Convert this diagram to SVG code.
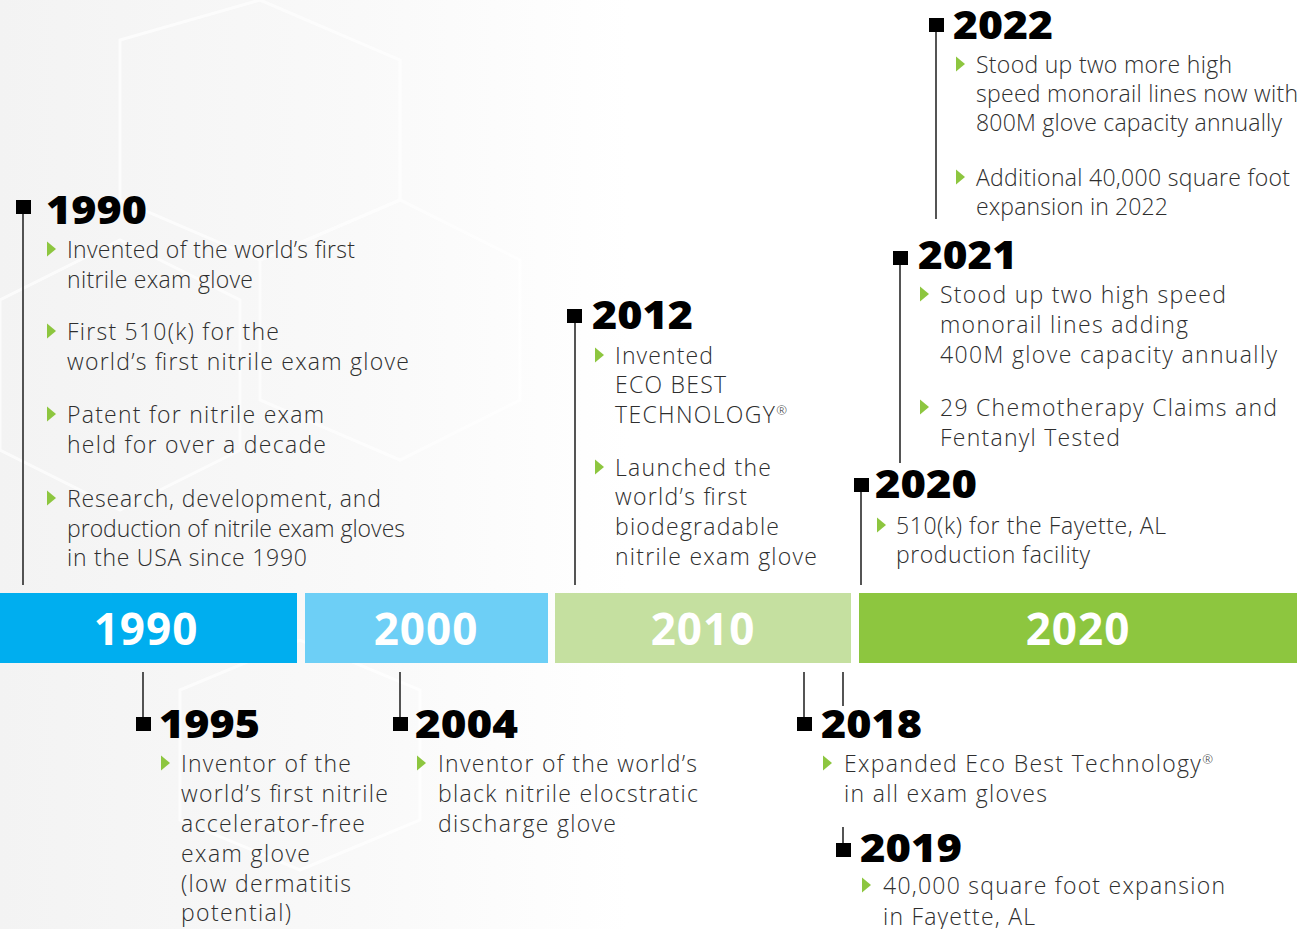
<svg xmlns="http://www.w3.org/2000/svg" width="1307" height="929" viewBox="0 0 1307 929">
  <defs>
    <linearGradient id="bgfade" x1="0" y1="0" x2="1" y2="0">
      <stop offset="0" stop-color="#f3f3f3"/>
      <stop offset="0.4" stop-color="#f9f9f9"/>
      <stop offset="0.7" stop-color="#ffffff"/>
    </linearGradient>
    <polygon id="bullet" points="0,-7.5 9,0 0,7.5"/>
  </defs>
  <style>
    .yr { font-family: "Open Sans", "DejaVu Sans", sans-serif; font-weight: 800; font-size: 38px; fill: #000; }
    .txt { font-family: "Open Sans", "DejaVu Sans", sans-serif; font-weight: 300; font-size: 23px; fill: #2e2e2e; }
    .bar { font-family: "Open Sans", "DejaVu Sans", sans-serif; font-weight: 700; font-size: 44px; fill: #fff; text-anchor: middle; letter-spacing: 1px; }
    .stem { stroke: #2a2a2a; stroke-width: 1.6; fill: none; }
    .sq { fill: #000; }
    .tri { fill: #8dc63f; }
    .sup { font-size: 13px; }
  </style>

  <!-- soft background with faint hexagon facets -->
  <rect x="0" y="0" width="1307" height="929" fill="#ffffff"/>
  <rect x="0" y="0" width="900" height="929" fill="url(#bgfade)"/>
  <g fill="none" stroke="#ffffff" stroke-width="3" opacity="0.7">
    <polygon points="120,40 260,0 400,60 400,200 260,260 120,200"/>
    <polygon points="260,260 400,200 520,260 520,400 400,460 260,400"/>
    <polygon points="0,300 120,240 240,300 240,450 120,510 0,450"/>
    <polygon points="180,690 300,640 420,690 420,820 300,870 180,820"/>
  </g>

  <!-- decade bar -->
  <g id="decades">
    <rect x="0" y="593" width="297" height="70" fill="#00aeef"/>
    <rect x="305" y="593" width="243" height="70" fill="#6dcff6"/>
    <rect x="555" y="593" width="296" height="70" fill="#c5e0a0"/>
    <rect x="859" y="593" width="438" height="70" fill="#8dc63f"/>
    <text class="bar" x="146" y="645">1990</text>
    <text class="bar" x="426" y="645">2000</text>
    <text class="bar" x="703" y="645">2010</text>
    <text class="bar" x="1078" y="645">2020</text>
  </g>

  <!-- stems linking each milestone to the bar -->
  <g id="connectors">
    <line class="stem" x1="23" y1="207" x2="23" y2="585"/>
    <line class="stem" x1="143" y1="672" x2="143" y2="722"/>
    <line class="stem" x1="400" y1="672" x2="400" y2="722"/>
    <line class="stem" x1="575" y1="316" x2="575" y2="585"/>
    <line class="stem" x1="804" y1="672" x2="804" y2="722"/>
    <line class="stem" x1="843" y1="672" x2="843" y2="706"/>
    <line class="stem" x1="843" y1="827" x2="843" y2="849"/>
    <line class="stem" x1="861" y1="486" x2="861" y2="585"/>
    <line class="stem" x1="900" y1="258" x2="900" y2="463"/>
    <line class="stem" x1="936" y1="25" x2="936" y2="219"/>
  </g>

  <g id="m1990">
    <rect class="sq" x="16" y="200" width="15" height="14"/>
    <text class="yr" x="46" y="224" textLength="101" lengthAdjust="spacingAndGlyphs">1990</text>
    <use href="#bullet" class="tri" x="47" y="249"/>
    <text class="txt" x="67" y="258" textLength="288" lengthAdjust="spacing">Invented of the world’s first</text>
    <text class="txt" x="67" y="288" textLength="186" lengthAdjust="spacing">nitrile exam glove</text>
    <use href="#bullet" class="tri" x="47" y="331"/>
    <text class="txt" x="67" y="340" textLength="212" lengthAdjust="spacing">First 510(k) for the</text>
    <text class="txt" x="67" y="370" textLength="342" lengthAdjust="spacing">world’s first nitrile exam glove</text>
    <use href="#bullet" class="tri" x="47" y="414"/>
    <text class="txt" x="67" y="423" textLength="257" lengthAdjust="spacing">Patent for nitrile exam</text>
    <text class="txt" x="67" y="453" textLength="259" lengthAdjust="spacing">held for over a decade</text>
    <use href="#bullet" class="tri" x="47" y="498"/>
    <text class="txt" x="67" y="507" textLength="314" lengthAdjust="spacing">Research, development, and</text>
    <text class="txt" x="67" y="537" textLength="338" lengthAdjust="spacing">production of nitrile exam gloves</text>
    <text class="txt" x="67" y="566" textLength="240" lengthAdjust="spacing">in the USA since 1990</text>
  </g>

  <g id="m1995">
    <rect class="sq" x="136" y="717" width="15" height="14"/>
    <text class="yr" x="159" y="738" textLength="101" lengthAdjust="spacingAndGlyphs">1995</text>
    <use href="#bullet" class="tri" x="161" y="763"/>
    <text class="txt" x="181" y="772" textLength="170" lengthAdjust="spacing">Inventor of the</text>
    <text class="txt" x="181" y="802" textLength="207" lengthAdjust="spacing">world’s first nitrile</text>
    <text class="txt" x="181" y="832" textLength="184" lengthAdjust="spacing">accelerator-free</text>
    <text class="txt" x="181" y="862" textLength="129" lengthAdjust="spacing">exam glove</text>
    <text class="txt" x="181" y="892" textLength="170" lengthAdjust="spacing">(low dermatitis</text>
    <text class="txt" x="181" y="921" textLength="110" lengthAdjust="spacing">potential)</text>
  </g>

  <g id="m2004">
    <rect class="sq" x="393" y="717" width="15" height="14"/>
    <text class="yr" x="415" y="738" textLength="103" lengthAdjust="spacingAndGlyphs">2004</text>
    <use href="#bullet" class="tri" x="417" y="763"/>
    <text class="txt" x="438" y="772" textLength="259" lengthAdjust="spacing">Inventor of the world’s</text>
    <text class="txt" x="438" y="802" textLength="260" lengthAdjust="spacing">black nitrile elocstratic</text>
    <text class="txt" x="438" y="832" textLength="178" lengthAdjust="spacing">discharge glove</text>
  </g>

  <g id="m2012">
    <rect class="sq" x="567" y="309" width="15" height="14"/>
    <text class="yr" x="592" y="329" textLength="101" lengthAdjust="spacingAndGlyphs">2012</text>
    <use href="#bullet" class="tri" x="595" y="355"/>
    <text class="txt" x="615" y="364" textLength="98" lengthAdjust="spacing">Invented</text>
    <text class="txt" x="615" y="393" textLength="111" lengthAdjust="spacing">ECO BEST</text>
    <text class="txt" x="615" y="423" textLength="172" lengthAdjust="spacing">TECHNOLOGY<tspan class="sup" dy="-8">®</tspan></text>
    <use href="#bullet" class="tri" x="595" y="467"/>
    <text class="txt" x="615" y="476" textLength="156" lengthAdjust="spacing">Launched the</text>
    <text class="txt" x="615" y="505" textLength="132" lengthAdjust="spacing">world’s first</text>
    <text class="txt" x="615" y="535" textLength="164" lengthAdjust="spacing">biodegradable</text>
    <text class="txt" x="615" y="565" textLength="202" lengthAdjust="spacing">nitrile exam glove</text>
  </g>

  <g id="m2018">
    <rect class="sq" x="797" y="717" width="15" height="14"/>
    <text class="yr" x="821" y="738" textLength="101" lengthAdjust="spacingAndGlyphs">2018</text>
    <use href="#bullet" class="tri" x="823" y="763"/>
    <text class="txt" x="844" y="772" textLength="369" lengthAdjust="spacing">Expanded Eco Best Technology<tspan class="sup" dy="-8">®</tspan></text>
    <text class="txt" x="844" y="802" textLength="203" lengthAdjust="spacing">in all exam gloves</text>
  </g>

  <g id="m2019">
    <rect class="sq" x="836" y="843" width="15" height="14"/>
    <text class="yr" x="860" y="862" textLength="102" lengthAdjust="spacingAndGlyphs">2019</text>
    <use href="#bullet" class="tri" x="862" y="885"/>
    <text class="txt" x="883" y="894" textLength="342" lengthAdjust="spacing">40,000 square foot expansion</text>
    <text class="txt" x="883" y="925" textLength="152" lengthAdjust="spacing">in Fayette, AL</text>
  </g>

  <g id="m2020">
    <rect class="sq" x="854" y="478" width="15" height="14"/>
    <text class="yr" x="875" y="498" textLength="102" lengthAdjust="spacingAndGlyphs">2020</text>
    <use href="#bullet" class="tri" x="877" y="525"/>
    <text class="txt" x="896" y="534" textLength="270" lengthAdjust="spacing">510(k) for the Fayette, AL</text>
    <text class="txt" x="896" y="563" textLength="194" lengthAdjust="spacing">production facility</text>
  </g>

  <g id="m2021">
    <rect class="sq" x="893" y="251" width="15" height="14"/>
    <text class="yr" x="918" y="269" textLength="99" lengthAdjust="spacingAndGlyphs">2021</text>
    <use href="#bullet" class="tri" x="920" y="294"/>
    <text class="txt" x="940" y="303" textLength="286" lengthAdjust="spacing">Stood up two high speed</text>
    <text class="txt" x="940" y="333" textLength="248" lengthAdjust="spacing">monorail lines adding</text>
    <text class="txt" x="940" y="363" textLength="337" lengthAdjust="spacing">400M glove capacity annually</text>
    <use href="#bullet" class="tri" x="920" y="407"/>
    <text class="txt" x="940" y="416" textLength="337" lengthAdjust="spacing">29 Chemotherapy Claims and</text>
    <text class="txt" x="940" y="446" textLength="180" lengthAdjust="spacing">Fentanyl Tested</text>
  </g>

  <g id="m2022">
    <rect class="sq" x="929" y="18" width="15" height="14"/>
    <text class="yr" x="953" y="39" textLength="100" lengthAdjust="spacingAndGlyphs">2022</text>
    <use href="#bullet" class="tri" x="956" y="64"/>
    <text class="txt" x="976" y="73" textLength="256" lengthAdjust="spacing">Stood up two more high</text>
    <text class="txt" x="976" y="102" textLength="322" lengthAdjust="spacing">speed monorail lines now with</text>
    <text class="txt" x="976" y="131" textLength="306" lengthAdjust="spacing">800M glove capacity annually</text>
    <use href="#bullet" class="tri" x="956" y="177"/>
    <text class="txt" x="976" y="186" textLength="314" lengthAdjust="spacing">Additional 40,000 square foot</text>
    <text class="txt" x="976" y="215" textLength="192" lengthAdjust="spacing">expansion in 2022</text>
  </g>
</svg>
